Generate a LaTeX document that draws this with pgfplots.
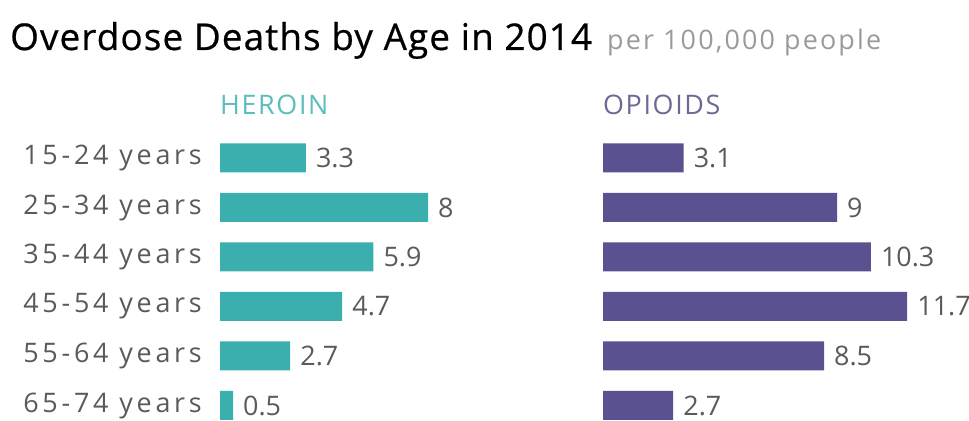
\documentclass[border=0pt]{standalone}
\usepackage{pgfplots}
\pgfplotsset{compat=1.18}
\usepackage{fontspec}
\setmainfont{Open Sans}
\newfontfamily\titlefont{Open Sans}[FakeBold=0.6, LetterSpace=3]
\newfontfamily\labfont{Open Sans}[LetterSpace=14]
\newfontfamily\subfont{Open Sans}[LetterSpace=8]
\newfontfamily\headfont{Open Sans}[LetterSpace=6]
\definecolor{heroin}{HTML}{3BAFAE}
\definecolor{opioid}{HTML}{5A5190}
\definecolor{heroinhead}{HTML}{5DBDBB}
\definecolor{opioidhead}{HTML}{6E6896}
\definecolor{labgray}{HTML}{5A5A5A}
\definecolor{subgray}{HTML}{9A9A9A}
\pgfplotsset{
  panel/.style={
    scale only axis, anchor=north west,
    width=312bp, height=297bp,
    xmin=0, xmax=12, ymin=-0.5, ymax=5.5, y dir=reverse,
    xbar, bar width=29bp,
    xtick=\empty, ytick={0,...,5},
    axis line style={draw=none}, major tick length=0pt,
    clip=false,
    nodes near coords,
    /pgf/number format/assume math mode=true,
    every node near coord/.append style={font=\fontsize{27}{27}\selectfont, text=labgray, anchor=west, inner sep=0pt, xshift=10bp},
    yticklabel style={font=\labfont\fontsize{27}{27}\selectfont, text=labgray, anchor=east, inner sep=0pt, xshift=-18bp},
  }
}
\begin{document}
\begin{tikzpicture}
\useasboundingbox (0,0) rectangle (969bp,421bp);
\node[anchor=base west, inner sep=0pt, font=\titlefont\fontsize{37}{37}\selectfont] at (10bp,371bp) {Overdose Deaths by Age in 2014};
\node[anchor=base west, inner sep=0pt, text=subgray, font=\subfont\fontsize{27}{27}\selectfont] at (607bp,371bp) {per 100,000 people};
\node[anchor=base west, inner sep=0pt, text=heroinhead, font=\headfont\fontsize{27}{27}\selectfont] at (220bp,306bp) {HEROIN};
\node[anchor=base west, inner sep=0pt, text=opioidhead, font=\headfont\fontsize{27}{27}\selectfont] at (603bp,306bp) {OPIOIDS};
\begin{axis}[panel, at={(220bp,287.75bp)},
  yticklabels={15-24 years,25-34 years,35-44 years,45-54 years,55-64 years,65-74 years}]
\addplot[fill=heroin, draw=none] coordinates {(3.3,0) (8,1) (5.9,2) (4.7,3) (2.7,4) (0.5,5)};
\end{axis}
\begin{axis}[panel, at={(603bp,287.75bp)}, yticklabels={}]
\addplot[fill=opioid, draw=none] coordinates {(3.1,0) (9,1) (10.3,2) (11.7,3) (8.5,4) (2.7,5)};
\end{axis}
\end{tikzpicture}
\end{document}
